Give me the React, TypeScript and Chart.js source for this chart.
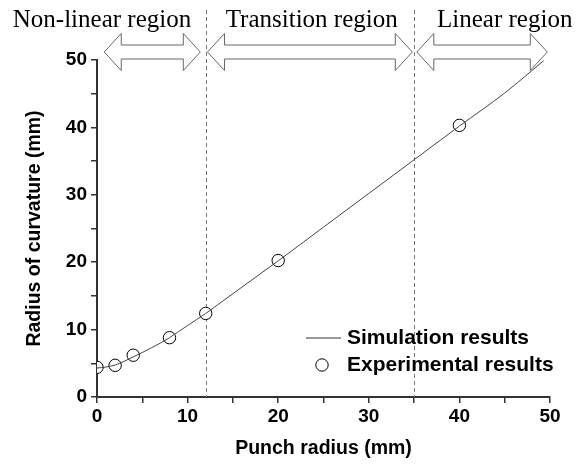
import React, { useEffect, useRef } from "react";
import { Chart, registerables } from "chart.js";

Chart.register(...registerables);

// Simulation curve (punch radius mm -> radius of curvature mm)
const simX = [0, 1, 2, 3, 4, 5, 6, 7, 8, 9, 10, 11, 12, 14, 16, 20, 25, 30, 35, 40, 45, 49.3];
const simY = [4.3, 4.45, 4.75, 5.3, 5.95, 6.6, 7.3, 8.0, 8.8, 9.7, 10.6, 11.5, 12.4, 14.35, 16.3, 20.2, 25.2, 30.2, 35.2, 40.2, 45.1, 49.9];

// Experimental results
const expX = [0, 2, 4, 8, 12, 20, 40];
const expY = [4.4, 4.7, 6.2, 8.8, 12.4, 20.25, 40.3];

// Region boundaries and labels
const boundaries = [12, 35];
const regionLabels = ["Non-linear region", "Transition region", "Linear region"];
const regionLabelX = [0.55, 23.7, 45.0];
const arrowRanges: [number, number][] = [
  [0.8, 11.4],
  [12.2, 34.8],
  [35.3, 49.7],
];

const legendLabels = ["Simulation results", "Experimental results"];

const SANS = '"Liberation Sans", Arial, sans-serif';
const SERIF = '"Liberation Serif", "Times New Roman", serif';

const overlayPlugin = {
  id: "overlay",
  beforeDatasetsDraw(chart: any) {
    const { ctx, chartArea, scales } = chart;
    ctx.save();
    ctx.strokeStyle = "#777";
    ctx.lineWidth = 1;
    ctx.setLineDash([4, 3]);
    boundaries.forEach((b) => {
      const x = Math.round(scales.x.getPixelForValue(b)) + 0.5;
      ctx.beginPath();
      ctx.moveTo(x, 10);
      ctx.lineTo(x, chartArea.bottom);
      ctx.stroke();
    });
    ctx.restore();
  },
  afterDatasetsDraw(chart: any) {
    const { ctx, chartArea, scales } = chart;
    ctx.save();
    // arrows
    const yc = chartArea.top - 8;
    const h = 17;
    const hh = 18.5;
    const sh = 7;
    ctx.strokeStyle = "#666";
    ctx.fillStyle = "#fff";
    ctx.lineWidth = 1;
    arrowRanges.forEach(([a, b]) => {
      const x1 = scales.x.getPixelForValue(a);
      const x2 = scales.x.getPixelForValue(b);
      ctx.beginPath();
      ctx.moveTo(x1, yc);
      ctx.lineTo(x1 + h, yc - hh);
      ctx.lineTo(x1 + h, yc - sh);
      ctx.lineTo(x2 - h, yc - sh);
      ctx.lineTo(x2 - h, yc - hh);
      ctx.lineTo(x2, yc);
      ctx.lineTo(x2 - h, yc + hh);
      ctx.lineTo(x2 - h, yc + sh);
      ctx.lineTo(x1 + h, yc + sh);
      ctx.lineTo(x1 + h, yc + hh);
      ctx.closePath();
      ctx.fill();
      ctx.stroke();
    });
    // region labels
    ctx.fillStyle = "#000";
    ctx.font = `25px ${SERIF}`;
    ctx.textAlign = "center";
    ctx.textBaseline = "alphabetic";
    regionLabels.forEach((t, i) => {
      ctx.fillText(t, scales.x.getPixelForValue(regionLabelX[i]), 27);
    });
    // legend
    const lx = chartArea.right - 244;
    const ly1 = chartArea.bottom - 59;
    const ly2 = chartArea.bottom - 32;
    ctx.strokeStyle = "#999";
    ctx.lineWidth = 2;
    ctx.beginPath();
    ctx.moveTo(lx, ly1);
    ctx.lineTo(lx + 35, ly1);
    ctx.stroke();
    ctx.strokeStyle = "#000";
    ctx.lineWidth = 1;
    ctx.fillStyle = "#fff";
    ctx.beginPath();
    ctx.arc(lx + 16, ly2, 6.2, 0, Math.PI * 2);
    ctx.fill();
    ctx.stroke();
    ctx.fillStyle = "#000";
    ctx.font = `bold 21px ${SANS}`;
    ctx.textAlign = "left";
    ctx.textBaseline = "middle";
    ctx.fillText(legendLabels[0], lx + 41, ly1);
    ctx.fillText(legendLabels[1], lx + 41, ly2);
    ctx.restore();
  },
};

export default function App() {
  const ref = useRef<HTMLCanvasElement | null>(null);
  useEffect(() => {
    if (!ref.current) return;
    const tickCb = (v: any) => (Number(v) % 10 === 0 ? String(v) : "");
    const chart = new Chart(ref.current, {
      type: "scatter",
      data: {
        datasets: [
          {
            type: "line",
            label: legendLabels[0],
            data: simX.map((x, i) => ({ x, y: simY[i] })),
            borderColor: "#444",
            borderWidth: 1,
            pointRadius: 0,
            tension: 0.4,
            cubicInterpolationMode: "monotone",
            fill: false,
            clip: 12,
          } as any,
          {
            type: "scatter",
            label: legendLabels[1],
            data: expX.map((x, i) => ({ x, y: expY[i] })),
            borderColor: "#000",
            backgroundColor: "#fff",
            borderWidth: 1,
            pointRadius: 6.2,
          },
        ],
      },
      options: {
        animation: false,
        responsive: true,
        maintainAspectRatio: false,
        layout: { padding: { top: 60, right: 36, left: 0, bottom: 0 } },
        plugins: { legend: { display: false }, tooltip: { enabled: false } },
        scales: {
          x: {
            type: "linear",
            min: 0,
            max: 50,
            afterFit: (axis: any) => {
              axis.height = 67;
            },
            ticks: {
              stepSize: 5,
              autoSkip: false,
              maxRotation: 0,
              callback: tickCb,
              color: "#000",
              font: { family: SANS, size: 19, weight: "bold" },
              padding: 2,
            },
            grid: { drawOnChartArea: false, drawTicks: true, tickLength: 6, color: "#333", lineWidth: 1.5 },
            border: { display: true, color: "#333", width: 2 },
            title: {
              display: true,
              text: "Punch radius (mm)",
              color: "#000",
              font: { family: SANS, size: 19.5, weight: "bold" },
              padding: { top: 0, bottom: 4 },
            },
          },
          y: {
            type: "linear",
            min: 0,
            max: 50,
            afterFit: (axis: any) => {
              axis.width = 97;
            },
            ticks: {
              stepSize: 5,
              autoSkip: false,
              callback: tickCb,
              color: "#000",
              font: { family: SANS, size: 19, weight: "bold" },
              padding: 4,
            },
            grid: { drawOnChartArea: false, drawTicks: true, tickLength: 6, color: "#333", lineWidth: 1.5 },
            border: { display: true, color: "#333", width: 2 },
            title: {
              display: true,
              text: "Radius of curvature (mm)",
              color: "#000",
              font: { family: SANS, size: 19.5, weight: "bold" },
              padding: { top: 23, bottom: 0 },
            },
          },
        },
      },
      plugins: [overlayPlugin],
    });
    return () => chart.destroy();
  }, []);
  return (
    <div style={{ position: "fixed", left: 0, top: 0, width: 586, height: 464, background: "#fff" }}>
      <canvas ref={ref} />
    </div>
  );
}
